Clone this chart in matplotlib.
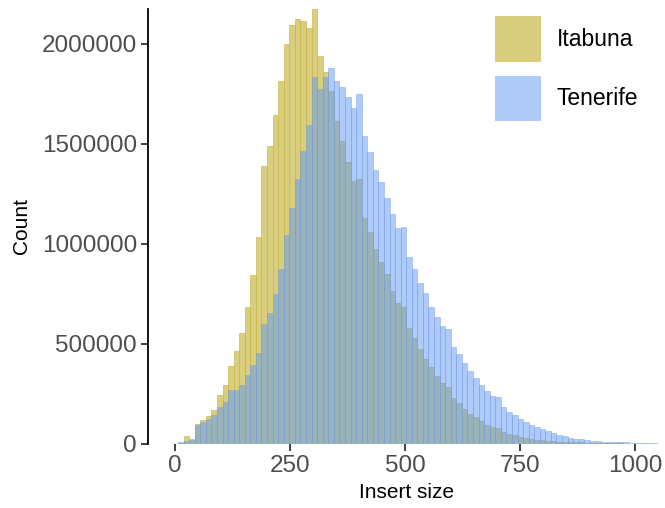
import numpy as np
import matplotlib
matplotlib.use('Agg')
import matplotlib.pyplot as plt
from matplotlib.patches import Patch

plt.rcParams['font.family'] = ['Liberation Sans', 'DejaVu Sans']

# histogram counts per bin (bins of 12.1 starting at 6.5)
bin_start = 6.5
bin_width = 12.1
itabuna = [3000, 40000, 20000, 100000, 118000, 140000, 170000, 243000, 295000, 390000,
           465000, 555000, 687000, 845000, 1035000, 1390000, 1490000, 1645000, 1815000, 2000000,
           2095000, 2125000, 2115000, 2080000, 2175000, 1940000, 1860000, 1765000, 1615000, 1515000,
           1410000, 1315000, 1325000, 1130000, 1060000, 975000, 910000, 850000, 765000, 705000,
           685000, 580000, 530000, 475000, 425000, 385000, 340000, 305000, 285000, 230000,
           205000, 175000, 150000, 135000, 115000, 95000, 85000, 80000, 60000, 50000,
           45000, 35000, 30000, 25000, 20000, 20000, 15000, 15000, 10000, 10000,
           8000, 8000, 8000, 5000, 5000, 5000, 4000, 4000, 3000, 3000,
           2000, 2000, 1500, 1000, 1000, 1000]
tenerife = [10000, 16000, 23000, 95000, 110000, 125000, 145000, 185000, 210000, 270000,
            270000, 295000, 345000, 395000, 455000, 600000, 655000, 750000, 875000, 1045000,
            1180000, 1325000, 1465000, 1595000, 1835000, 1775000, 1835000, 1880000, 1815000, 1785000,
            1735000, 1680000, 1750000, 1540000, 1460000, 1370000, 1310000, 1230000, 1150000, 1080000,
            1085000, 935000, 875000, 805000, 755000, 685000, 635000, 590000, 575000, 485000,
            450000, 405000, 365000, 330000, 295000, 265000, 240000, 235000, 185000, 160000,
            145000, 125000, 110000, 95000, 85000, 75000, 65000, 55000, 45000, 40000,
            30000, 27000, 27000, 22000, 17000, 17000, 12000, 12000, 8000, 8000,
            8000, 7000, 4000, 4000, 4000, 3500]
labels = ['Itabuna', 'Tenerife']
x_ticks = [0, 250, 500, 750, 1000]
y_ticks = [0, 500000, 1000000, 1500000, 2000000]

yellow_fill = (217/255, 206/255, 126/255)
yellow_edge = (196/255, 176/255, 60/255)
blue_fill = (93/255, 151/255, 245/255, 0.5)
blue_edge = (120/255, 160/255, 230/255, 0.8)
blue_key = (174/255, 203/255, 250/255)

edges = bin_start + bin_width * np.arange(len(itabuna))

fig = plt.figure(figsize=(6.65, 5.08), dpi=100)
ax = fig.add_axes([148/665, 64/508, 517/665, 435/508])

ax.bar(edges, itabuna, width=bin_width, align='edge', color=yellow_fill,
       edgecolor=yellow_edge, linewidth=0.4)
ax.bar(edges, tenerife, width=bin_width, align='edge', color=blue_fill,
       edgecolor=blue_edge, linewidth=0.4)

ax.set_xlim(-58.7, 1065.2)
ax.set_ylim(0, max(itabuna))
ax.set_xticks(x_ticks)
ax.set_yticks(y_ticks)
ax.set_yticklabels([str(v) for v in y_ticks])

for s in ['top', 'right', 'bottom']:
    ax.spines[s].set_visible(False)
ax.spines['left'].set_linewidth(1.3)
ax.spines['left'].set_color('black')

ax.tick_params(axis='both', colors='#333333', labelcolor='#4d4d4d', labelsize=17.5,
               length=5, width=1.3, pad=3)

ax.set_xlabel('Insert size', fontsize=15, labelpad=4)
ax.set_ylabel('Count', fontsize=15, labelpad=8)

handles = [Patch(facecolor=yellow_fill, edgecolor='none'),
           Patch(facecolor=blue_key, edgecolor='none')]
fig.legend(handles, labels, loc='upper left', bbox_to_anchor=(495/665, 1 - 16/508),
           bbox_transform=fig.transFigure, frameon=False, fontsize=16.5,
           handlelength=2.0, handleheight=2.7, handletextpad=0.7,
           labelspacing=0.6, borderpad=0, borderaxespad=0)

fig.savefig('out.png', dpi=100)
